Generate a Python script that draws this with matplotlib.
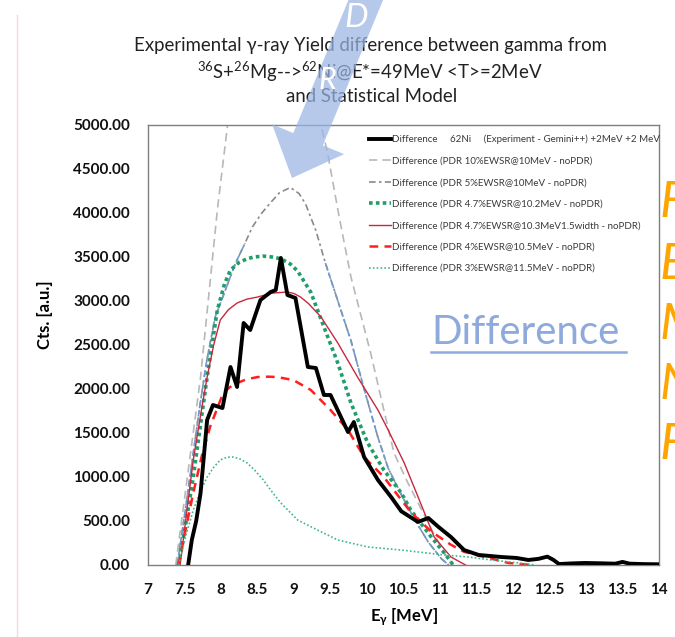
import numpy as np
import matplotlib
matplotlib.use("Agg")
import matplotlib.pyplot as plt
from matplotlib.patches import FancyArrow

plt.rcParams['font.family'] = ['Lato', 'DejaVu Sans']
plt.rcParams['mathtext.fontset'] = 'custom'
plt.rcParams['mathtext.rm'] = 'Lato'
plt.rcParams['mathtext.bf'] = 'Lato:bold'
plt.rcParams['mathtext.it'] = 'Lato:italic'

# ---------------- data ----------------
exp_x = [7.55, 7.60, 7.66, 7.72, 7.81, 7.89, 8.02, 8.13, 8.22, 8.31, 8.40, 8.54, 8.68, 8.75,
         8.82, 8.91, 9.02, 9.19, 9.30, 9.41, 9.50, 9.74, 9.82, 9.92, 9.96, 10.15, 10.33,
         10.47, 10.70, 10.84, 10.98, 11.15, 11.33, 11.53, 11.84, 12.05, 12.21, 12.35,
         12.47, 12.55, 12.63, 12.80, 12.98, 13.18, 13.40, 13.50, 13.60, 13.80, 14.0]
exp_y = [0, 284, 500, 818, 1648, 1818, 1784, 2250, 2023, 2750, 2670, 3011, 3102, 3125,
         3489, 3068, 3034, 2250, 2239, 1932, 1932, 1511, 1625, 1341, 1227, 966, 773,
         610, 489, 534, 432, 318, 170, 114, 91, 80, 57, 70,
         95, 60, 11, 18, 23, 20, 15, 35, 15, 10, 8]

g10_x = [7.38, 7.48, 7.72, 7.95, 8.09, 8.25, 8.45, 8.65, 8.85, 9.05, 9.25, 9.37, 9.46,
         9.62, 9.78, 10.05, 10.22, 10.37, 10.55, 10.70, 10.90, 11.06, 11.18]
g10_y = [0, 625, 2136, 4034, 5000, 5800, 6400, 6700, 6700, 6400, 5700, 5000, 4682,
         3950, 3273, 2409, 1800, 1273, 950, 705, 380, 136, 0]

g5_x = [7.40, 7.50, 7.60, 7.70, 7.80, 7.92, 8.06, 8.20, 8.33, 8.43, 8.55, 8.65, 8.80,
        8.95, 9.07, 9.16, 9.30, 9.43, 9.61, 9.78, 9.96, 10.15, 10.29, 10.47, 10.65,
        10.84, 11.02, 11.12]
g5_y = [0, 560, 1150, 1750, 2300, 2818, 3125, 3432, 3659, 3841, 3990, 4090, 4230,
        4290, 4220, 4100, 3800, 3432, 2977, 2550, 2000, 1450, 1100, 800, 520,
        260, 70, 0]

p47_x = [7.42, 7.52, 7.62, 7.72, 7.81, 7.95, 8.05, 8.13, 8.25, 8.36, 8.45, 8.58, 8.70,
         8.82, 8.95, 9.05, 9.23, 9.41, 9.60, 9.78, 10.01, 10.23, 10.47, 10.60, 10.88,
         11.06, 11.18]
p47_y = [0, 480, 1000, 1600, 2136, 2898, 3200, 3352, 3440, 3480, 3500, 3510, 3500,
         3480, 3420, 3340, 3100, 2705, 2295, 1841, 1386, 1080, 818, 625, 318,
         136, 0]

w47_x = [7.44, 7.53, 7.62, 7.72, 7.81, 7.90, 7.99, 8.10, 8.22, 8.35, 8.50, 8.70, 8.91,
         9.00, 9.09, 9.20, 9.37, 9.60, 9.87, 10.15, 10.29, 10.51, 10.70, 10.92, 11.15,
         11.35]
w47_y = [0, 600, 1193, 1700, 2136, 2500, 2784, 2900, 2977, 3020, 3045, 3090, 3102,
         3085, 3045, 2970, 2818, 2523, 2136, 1761, 1534, 1159, 773, 318, 91,
         0]

p4_x = [7.42, 7.52, 7.62, 7.74, 7.85, 8.03, 8.12, 8.22, 8.35, 8.50, 8.65, 8.77, 8.99,
        9.23, 9.50, 9.74, 9.96, 10.23, 10.47, 10.60, 10.88, 11.15, 11.33, 11.61,
        11.94, 12.25]
p4_y = [0, 420, 818, 1250, 1568, 1955, 2020, 2068, 2110, 2136, 2140, 2136, 2102,
        1989, 1761, 1534, 1227, 1000, 740, 600, 380, 230, 150, 91,
        23, 0]

p3_x = [7.42, 7.52, 7.62, 7.72, 7.81, 7.90, 7.99, 8.08, 8.17, 8.26, 8.36, 8.47, 8.58,
        8.70, 8.82, 9.05, 9.32, 9.60, 10.01, 10.47, 11.06, 11.39, 11.70, 12.08, 12.30]
p3_y = [0, 340, 625, 840, 1000, 1110, 1193, 1225, 1227, 1205, 1159, 1070, 966,
        830, 705, 511, 398, 284, 205, 170, 114, 91, 57, 23, 0]

labels = [
    "Difference     62Ni     (Experiment - Gemini++) +2MeV +2 MeV",
    "Difference (PDR 10%EWSR@10MeV - noPDR)",
    "Difference (PDR 5%EWSR@10MeV - noPDR)",
    "Difference (PDR 4.7%EWSR@10.2MeV - noPDR)",
    "Difference (PDR 4.7%EWSR@10.3MeV1.5width - noPDR)",
    "Difference (PDR 4%EWSR@10.5MeV - noPDR)",
    "Difference (PDR 3%EWSR@11.5MeV - noPDR)",
]
xticks = [7, 7.5, 8, 8.5, 9, 9.5, 10, 10.5, 11, 11.5, 12, 12.5, 13, 13.5, 14]
yticks = np.arange(0, 5001, 500)

# ---------------- figure ----------------
fig = plt.figure(figsize=(6.75, 6.37), dpi=100)
ax = fig.add_axes([148/675, 1 - 565/637, 511/675, 440/637])

l10, = ax.plot(g10_x, g10_y, color='#b8b8b8', lw=1.2, dashes=(5, 3))
l5, = ax.plot(g5_x, g5_y, color='#8a8a8a', lw=1.2, dashes=(4, 2, 1.5, 2))
g5 = np.array(g5_y, dtype=float)
ax.plot(g5_x, np.where(g5 < 3700, g5, np.nan), color='#6f9bd1', lw=1.2, dashes=(4, 2))
l47, = ax.plot(p47_x, p47_y, color='#1f9e6a', lw=2.6, dashes=(1, 0.9))
lw47, = ax.plot(w47_x, w47_y, color='#c8283f', lw=1.0)
l4, = ax.plot(p4_x, p4_y, color='#ff1f1f', lw=1.8, dashes=(3.5, 2.5))
l3, = ax.plot(p3_x, p3_y, color='#3cb88a', lw=1.2, dashes=(1, 1.3))
lexp, = ax.plot(exp_x, exp_y, color='black', lw=2.8, zorder=5)

ax.set_xlim(7, 14)
ax.set_ylim(0, 5000)
ax.set_xticks(xticks)
ax.set_xticklabels([f"{v:g}" for v in xticks], fontsize=11, fontweight='bold')
ax.set_yticks(yticks)
ax.set_yticklabels([f"{v:.2f}" for v in yticks], fontsize=11, fontweight='bold')
ax.tick_params(length=0, pad=13, colors='#111111')
for s in ax.spines.values():
    s.set_color('#7f7f7f')
    s.set_linewidth(1.0)

ax.set_ylabel("Cts. [a.u.]", fontsize=12, fontweight='bold')
ax.yaxis.set_label_coords(-0.186, 0.57)
ax.set_xlabel(r"E$_\mathbf{\gamma}$ [MeV]", fontsize=12, fontweight='bold', labelpad=7)

ax.legend([lexp, l10, l5, l47, lw47, l4, l3], labels, loc='upper left',
          bbox_to_anchor=(364/675, 1 - 130/637), bbox_transform=fig.transFigure,
          frameon=False, fontsize=7, handlelength=2.3, handletextpad=0.1,
          labelspacing=1.28, borderpad=0, labelcolor='#3a3a3a')

# title
tkw = dict(ha='center', va='center', fontsize=13.4, color='#222222')
fig.text(370/675, 1 - 45/637, "Experimental γ-ray Yield difference between gamma from", **tkw)
fig.text(370/675, 1 - 72/637, r"$^{36}$S+$^{26}$Mg-->$^{62}$Ni@E*=49MeV <T>=2MeV", **tkw)
fig.text(372/675, 1 - 97/637, "and Statistical Model", **tkw)

# slide overlay (arrow, labels)
ov = fig.add_axes([0, 0, 1, 1], zorder=10)
ov.set_xlim(0, 675)
ov.set_ylim(637, 0)
ov.axis('off')
ov.patch.set_alpha(0)
ov.plot([17, 17], [15, 637], color='#f6d8d8', lw=1)
ov.add_patch(FancyArrow(372, -15, -80, 193, width=32, head_width=78, head_length=42,
                        length_includes_head=True, color='#9bb5e3', alpha=0.72, lw=0))
ov.text(356, 18, "D", color='white', fontsize=24, style='italic', ha='center', va='center')
ov.text(327, 80, "R", color='white', fontsize=22, style='italic', ha='center', va='center')
ov.text(431, 344, "Difference", color='#8eaadc', fontsize=29, ha='left', va='baseline')
ov.plot([431, 626], [352, 352], color='#8eaadc', lw=1.8)
for ch, yy in zip("FEMNF", [203, 265, 325, 385, 445]):
    ov.text(660, yy, ch, color='#ffa500', fontsize=36, style='italic', ha='left', va='center')

fig.savefig("out.png", dpi=100)
